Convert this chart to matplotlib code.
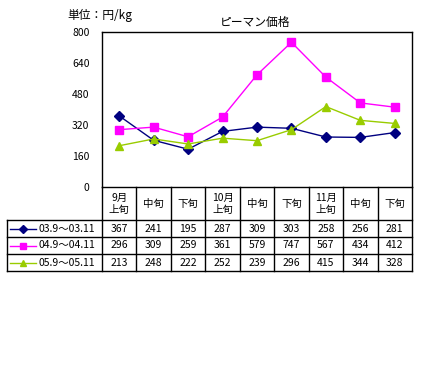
import matplotlib
matplotlib.use('Agg')
import matplotlib.pyplot as plt
from matplotlib.lines import Line2D

plt.rcParams['font.family'] = ['Noto Sans CJK JP', 'DejaVu Sans']

# データ
periods = ['9月\n上旬', '中旬', '下旬', '10月\n上旬', '中旬', '下旬', '11月\n上旬', '中旬', '下旬']
series_names = ['03.9～03.11', '04.9～04.11', '05.9～05.11']
s2003 = [367, 241, 195, 287, 309, 303, 258, 256, 281]
s2004 = [296, 309, 259, 361, 579, 747, 567, 434, 412]
s2005 = [213, 248, 222, 252, 239, 296, 415, 344, 328]
yticks = [0, 160, 320, 480, 640, 800]

colors = ['#000080', '#FF00FF', '#99CC00']
markers = ['D', 's', '^']
msizes = [5, 6, 6]
all_series = [s2003, s2004, s2005]

W, H = 431, 367
fig = plt.figure(figsize=(W / 100, H / 100), dpi=100)

# 表の枠 (ピクセル座標)
left, right = 102, 412
top, bottom = 32, 187
tab_left = 7
head_h = 33
row_h = 17

ax = fig.add_axes([left / W, 1 - bottom / H, (right - left) / W, (bottom - top) / H])
ax.set_xlim(-0.5, len(periods) - 0.5)
ax.set_ylim(0, 800)
ax.set_yticks(yticks)
ax.set_yticklabels([str(v) for v in yticks], fontsize=7.5)
ax.set_xticks([])
ax.tick_params(axis='y', length=0, pad=9)
for sp in ax.spines.values():
    sp.set_linewidth(1.0)
    sp.set_color('black')

x = list(range(len(periods)))
for vals, c, m, ms in zip(all_series, colors, markers, msizes):
    ax.plot(x, vals, color=c, marker=m, markersize=ms, linewidth=1.0, clip_on=False)

fig.text(67 / W, 1 - 15 / H, '単位：円/kg', fontsize=8.5, va='center', ha='left')
fig.text(220 / W, 1 - 22 / H, 'ピーマン価格', fontsize=8.5, va='center', ha='left')

# 表
tax = fig.add_axes([0, 0, 1, 1])
tax.set_xlim(0, W)
tax.set_ylim(H, 0)
tax.axis('off')

col_w = (right - left) / len(periods)
n_rows = len(all_series)
tab_bottom = bottom + head_h + row_h * n_rows

lk = dict(color='black', linewidth=1.0)
# 横線
tax.plot([left, right], [bottom + head_h, bottom + head_h], **lk)
for r in range(1, n_rows + 1):
    y = bottom + head_h + row_h * r
    tax.plot([tab_left, right], [y, y], **lk)
tax.plot([tab_left, left], [bottom + head_h, bottom + head_h], **lk)
# 縦線
tax.plot([tab_left, tab_left], [bottom + head_h, tab_bottom], **lk)
tax.plot([left, left], [bottom, tab_bottom], **lk)
for i in range(1, len(periods) + 1):
    xx = left + col_w * i
    tax.plot([xx, xx], [bottom, tab_bottom], **lk)

for i, p in enumerate(periods):
    cx = left + col_w * (i + 0.5)
    tax.text(cx, bottom + head_h / 2, p, ha='center', va='center', fontsize=7.5, linespacing=1.25)

for r, (name, vals, c, m, ms) in enumerate(zip(series_names, all_series, colors, markers, msizes)):
    cy = bottom + head_h + row_h * (r + 0.5)
    tax.add_line(Line2D([10, 36], [cy, cy], color=c, linewidth=1.0))
    tax.plot([23], [cy], marker=m, color=c, markersize=ms - 1)
    tax.text(39, cy, name, ha='left', va='center', fontsize=7.5)
    for i, v in enumerate(vals):
        cx = left + col_w * (i + 0.5)
        tax.text(cx, cy, str(v), ha='center', va='center', fontsize=7.5)

fig.savefig('out.png', dpi=100)
